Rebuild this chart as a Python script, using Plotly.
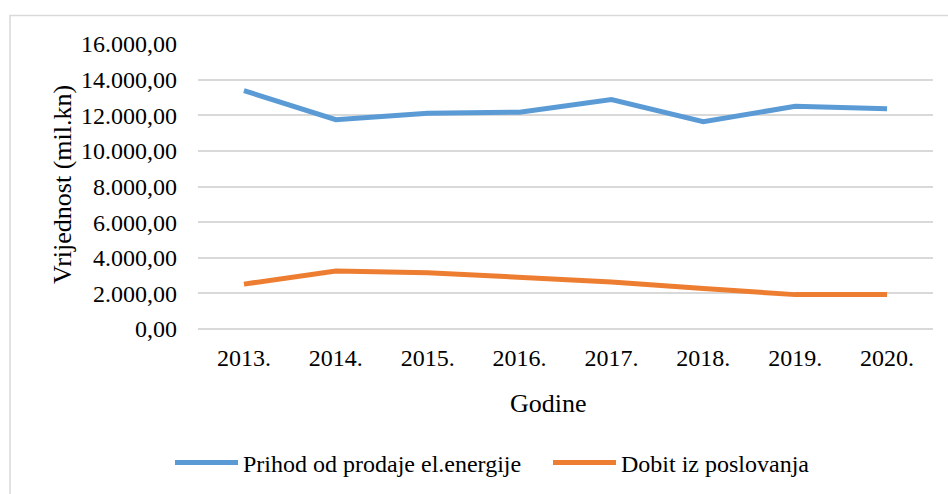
import plotly.graph_objects as go

years = ["2013.", "2014.", "2015.", "2016.", "2017.", "2018.", "2019.", "2020."]
prihod = [13380, 11750, 12110, 12170, 12880, 11640, 12500, 12370]
dobit = [2520, 3260, 3160, 2870, 2640, 2270, 1930, 1930]
series_names = ["Prihod od prodaje el.energije", "Dobit iz poslovanja"]
y_ticks = [0, 2000, 4000, 6000, 8000, 10000, 12000, 14000, 16000]
x_title = "Godine"
y_title = "Vrijednost (mil.kn)"

FONT = "Liberation Serif"
FS = 24
FT = 26

# plot area in pixels: x 198..933, y 44..329
L, R, T, B = 198, 933, 44, 329
W, H = R - L, B - T

def px(x):
    return (x - L) / W

def py(y):
    return (B - y) / H

fig = go.Figure()
fig.add_trace(go.Scatter(x=years, y=prihod, mode="lines", name=series_names[0],
                         line=dict(color="#5b9bd5", width=5, shape="linear")))
fig.add_trace(go.Scatter(x=years, y=dobit, mode="lines", name=series_names[1],
                         line=dict(color="#ed7d31", width=5, shape="linear")))

fig.update_layout(
    width=948, height=494,
    margin=dict(l=L, r=948 - R, t=T, b=494 - B, autoexpand=False),
    paper_bgcolor="white", plot_bgcolor="white",
    font=dict(family=FONT, size=FS, color="black"),
    separators=",.",
    showlegend=True,
    legend=dict(orientation="h", x=px(170), xanchor="left", y=py(463), yanchor="middle",
                font=dict(family=FONT, size=FS), itemwidth=63, tracegroupgap=0,
                entrywidth=300, entrywidthmode="pixels"),
    xaxis=dict(type="category", range=[-0.5, 7.5], showgrid=False, automargin=False,
               showline=False, ticks="", ticklabelstandoff=12,
               tickfont=dict(family=FONT, size=FS)),
    yaxis=dict(range=[0, 16000], tickvals=y_ticks, tickformat=",.2f", automargin=False,
               showgrid=True, gridcolor="#d9d9d9", gridwidth=2,
               zeroline=True, zerolinecolor="#d9d9d9", zerolinewidth=2,
               showline=False, ticks="", ticklabelstandoff=20,
               tickfont=dict(family=FONT, size=FS)),
    annotations=[
        dict(text=x_title, xref="paper", yref="paper", x=px(548), y=py(403),
             xanchor="center", yanchor="middle", showarrow=False,
             font=dict(family=FONT, size=FT)),
        dict(text=y_title, xref="paper", yref="paper", x=px(62), y=py(185),
             xanchor="center", yanchor="middle", showarrow=False, textangle=-90,
             font=dict(family=FONT, size=FT)),
    ],
    shapes=[dict(type="rect", xref="paper", yref="paper",
                 x0=px(10), x1=px(960), y0=py(520), y1=py(15.5),
                 line=dict(color="#d9d9d9", width=1.5), fillcolor="rgba(0,0,0,0)",
                 layer="below")],
)

fig.write_html("out.html", config={"displayModeBar": False},
               post_script="document.body.style.margin='0';document.body.style.overflow='hidden';")
